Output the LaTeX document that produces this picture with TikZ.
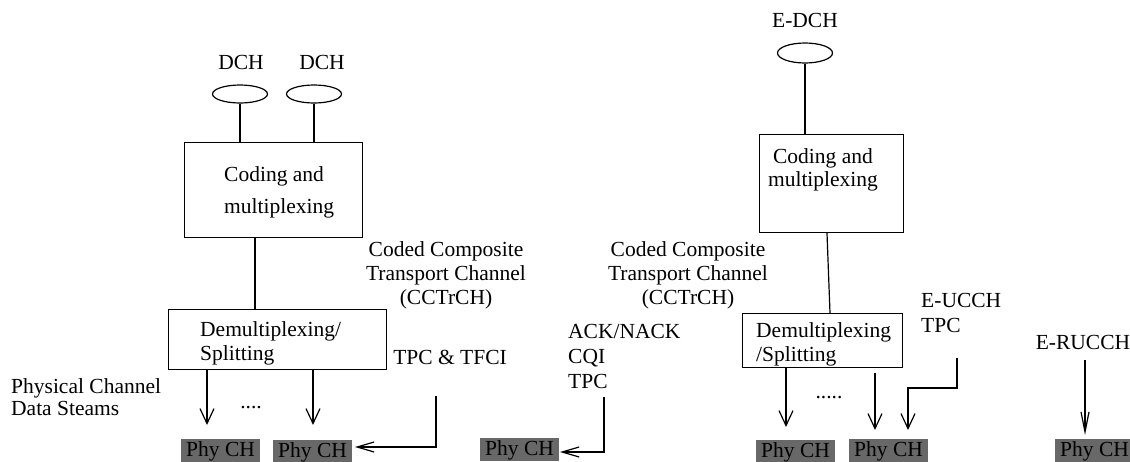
\documentclass[tikz,border=0pt]{standalone}
\usepackage{fontspec}
\setmainfont{Liberation Serif}
\usetikzlibrary{arrows.meta,shapes.geometric}
\definecolor{phygray}{RGB}{104,104,104}
\tikzset{
    every node/.style={font=\fontsize{21.5}{24}\selectfont, inner sep=0pt},
    blk/.style={draw, line width=1.2pt, anchor=north west},
    chan/.style={draw, ellipse, line width=1.2pt, minimum width=55pt, minimum height=18pt},
    phy/.style={fill=phygray, anchor=north west, inner xsep=5pt, inner ysep=2pt, text height=15pt, text depth=4pt},
    dn/.style={line width=1.2pt, -{Straight Barb[length=15pt,width=14pt]}},
    lt/.style={line width=1.2pt, -{Straight Barb[length=17pt,width=10pt]}},
    thindn/.style={line width=1.2pt, -{Straight Barb[length=20pt,width=8pt]}},
}
\begin{document}
\begin{tikzpicture}[x=1pt,y=-1pt]
    \useasboundingbox (0,0) rectangle (1130,461);
    % DCH side
    \node (dch1) at (241,62) {DCH};
    \node (dch2) at (322,62) {DCH};
    \node[chan] (e1) at (240,94) {};
    \node[chan] (e2) at (314,94) {};
    \node[blk, minimum width=178pt, minimum height=95pt] (cod1) at (184,142) {};
    \node[align=left, anchor=west] (cod1t) at (224,192) {Coding and\\[8pt]multiplexing};
    \node[blk, minimum width=218pt, minimum height=60pt] (dem1) at (168,309) {};
    \node[align=left, anchor=west] (dem1t) at (200,343) {Demultiplexing/\\Splitting};
    \foreach \e in {e1,e2}
    {
        \draw[line width=1.2pt] (\e.south) -- (\e.south |- cod1.north);
    }
    \coordinate (c1) at (255,0);
    \draw[line width=1.2pt] (cod1.south -| c1) -- (dem1.north -| c1);
    \node[align=center] (cct1) at (446,275) {Coded Composite\\Transport Channel\\(CCTrCH)};
    \node (tfci) at (450,357) {TPC \& TFCI};
    \node[align=left, anchor=west] (pcds) at (11,397) {Physical Channel\\[-2pt]Data Steams};
    \node (dots1) at (251,408) {....};
    % E-DCH side
    \node (edch) at (805,20) {E-DCH};
    \node[chan, minimum height=20pt] (e3) at (805,53) {};
    \node[blk, minimum width=144pt, minimum height=98pt] (cod2) at (759,134) {};
    \node[align=center] (cod2t) at (823,170) {Coding and\\[-1pt]multiplexing};
    \node[blk, minimum width=160pt, minimum height=54pt] (dem2) at (742,313) {};
    \node[align=left, anchor=west] (dem2t) at (756,344) {Demultiplexing\\/Splitting};
    \draw[line width=1.2pt] (e3.south) -- (e3.south |- cod2.north);
    \coordinate (c2a) at (827,0);
    \coordinate (c2b) at (830,0);
    \draw[line width=1.2pt] (cod2.south -| c2a) -- (dem2.north -| c2b);
    \node[align=center] (cct2) at (688,275) {Coded Composite\\Transport Channel\\(CCTrCH)};
    \node[align=left, anchor=west] (ack) at (568,356) {ACK/NACK\\[1pt]CQI\\[1pt]TPC};
    \node[align=left, anchor=west] (eucch) at (921,313) {E-UCCH\\[1pt]TPC};
    \node (erucch) at (1083,342) {E-RUCCH};
    \node (dots2) at (829,398) {.....};
    % physical channels
    \foreach \n/\x/\y in {1/181/439, 2/273/440, 3/480/438, 4/756/440, 5/849/439, 6/1055/439}
    {
        \node[phy] (phy\n) at (\x,\y) {Phy CH};
    }
    % arrows
    \coordinate (a1) at (207,425);
    \coordinate (a2) at (313,425);
    \coordinate (a3) at (786,427);
    \coordinate (a4s) at (875,373);
    \coordinate (a4) at (875,430);
    \foreach \a in {a1,a2}
    {
        \draw[dn] (dem1.south -| \a) -- (\a);
    }
    \draw[dn] (dem2.south -| a3) -- (a3);
    \draw[dn] (a4s) -- (a4);
    \coordinate (tfcitop) at (436,396);
    \coordinate (tfcitip) at (355,447);
    \draw[lt] (tfcitop) |- (tfcitip);
    \coordinate (acktop) at (604,397);
    \coordinate (acktip) at (560,452);
    \draw[lt] (acktop) |- (acktip);
    \coordinate (eutop) at (957,358);
    \coordinate (eubend) at (908,388);
    \coordinate (eutip) at (908,430);
    \draw[dn] (eutop) |- (eubend) -- (eutip);
    \coordinate (erutop) at (1085,360);
    \coordinate (erutip) at (1085,435);
    \draw[thindn] (erutop) -- (erutip);
\end{tikzpicture}
\end{document}
